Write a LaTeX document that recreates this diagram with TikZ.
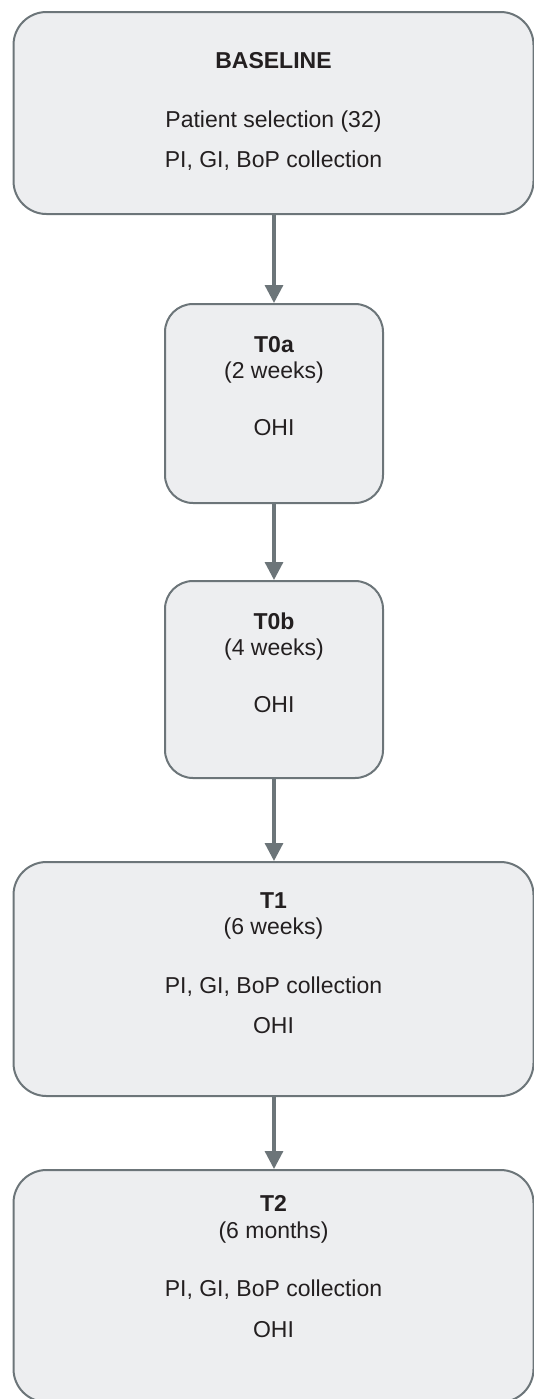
\documentclass[tikz,border=0pt]{standalone}
\usepackage{fontspec}
\setmainfont{Liberation Sans}
\usetikzlibrary{arrows.meta}
\definecolor{edgegray}{RGB}{108,117,121}
\definecolor{boxfill}{RGB}{237,238,240}
\definecolor{txt}{RGB}{35,31,32}
\tikzset{
  stage/.style={draw=edgegray, fill=boxfill, line width=1pt, inner sep=0pt, rectangle},
  widebox/.style={stage, minimum width=260pt, rounded corners=16.5pt},
  narrowbox/.style={stage, minimum width=109pt, rounded corners=14pt},
  lbl/.style={anchor=base, inner sep=0pt, text=txt, font=\fontsize{11.5}{14}\selectfont},
  ttl/.style={lbl, font=\fontsize{11.5}{14}\selectfont\bfseries},
  flow/.style={draw=edgegray, line width=1.6pt, -{Triangle[width=9pt,length=9pt]}}
}
\begin{document}
\begin{tikzpicture}[x=0.5pt,y=-0.5pt]
\useasboundingbox (0,0) rectangle (534,1399);
% boxes
\node[widebox, minimum height=101pt] (base) at (273.5,113) {};
\node[narrowbox, minimum height=99.5pt] (t0a) at (274,403.5) {};
\node[narrowbox, minimum height=98.5pt] (t0b) at (274,679.5) {};
\node[widebox, minimum height=117pt] (t1) at (273.5,979) {};
\node[widebox, minimum height=116pt] (t2) at (273.5,1286) {};
% texts
\node[ttl] (baset) at (273.5,68) {BASELINE};
\node[lbl] (basea) at (273.5,127) {Patient selection (32)};
\node[lbl] (baseb) at (273.5,167) {PI, GI, BoP collection};
\node[ttl] (t0at) at (274,352) {T0a};
\node[lbl] (t0aw) at (274,378) {(2 weeks)};
\node[lbl] (t0ao) at (274,435) {OHI};
\node[ttl] (t0bt) at (274,629) {T0b};
\node[lbl] (t0bw) at (274,655) {(4 weeks)};
\node[lbl] (t0bo) at (274,712) {OHI};
\node[ttl] (t1t) at (273.5,908) {T1};
\node[lbl] (t1w) at (273.5,934) {(6 weeks)};
\node[lbl] (t1a) at (273.5,993) {PI, GI, BoP collection};
\node[lbl] (t1o) at (273.5,1033) {OHI};
\node[ttl] (t2t) at (273.5,1211) {T2};
\node[lbl] (t2w) at (273.5,1238) {(6 months)};
\node[lbl] (t2a) at (273.5,1296) {PI, GI, BoP collection};
\node[lbl] (t2o) at (273.5,1337) {OHI};
% connectors
\draw[flow] (base.south -| t0a.north) -- (t0a.north);
\draw[flow] (t0a.south) -- (t0b.north);
\draw[flow] (t0b.south) -- (t0b.south |- t1.north);
\draw[flow] (t1.south -| t0b.south) -- (t0b.south |- t2.north);
\end{tikzpicture}
\end{document}
